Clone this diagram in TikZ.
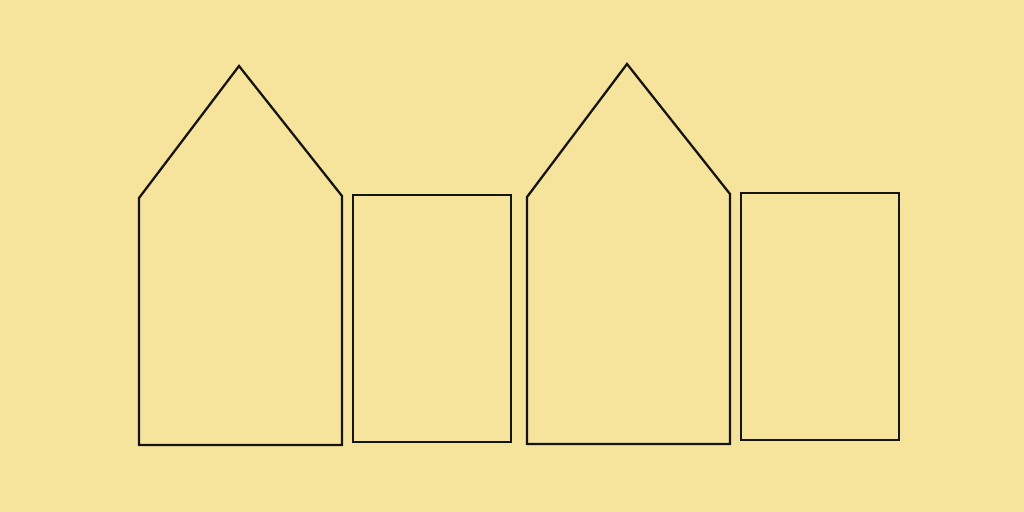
\documentclass[tikz,border=0pt]{standalone}
\usepackage{xcolor}
\usepackage{tikz}
\definecolor{sandyellow}{HTML}{F6E39C}
\definecolor{inkline}{HTML}{161410}

\begin{document}
\begin{tikzpicture}[
  x=0.01cm, y=-0.01cm,
  outline/.style={draw=inkline, line width=0.65pt, line join=miter}
]
\fill[sandyellow] (0,0) rectangle (1024,512);
\useasboundingbox (0,0) rectangle (1024,512);
% first house and its box
\draw[outline] (139,445) -- (139,198) -- (239,66) -- (342,196) -- (342,445) -- cycle;
\draw[outline] (353,195) rectangle (511,442);
% second house and its box
\draw[outline] (527,444) -- (527,197) -- (627,64) -- (730,194) -- (730,444) -- cycle;
\draw[outline] (741,193) rectangle (899,440);
\end{tikzpicture}
\end{document}
